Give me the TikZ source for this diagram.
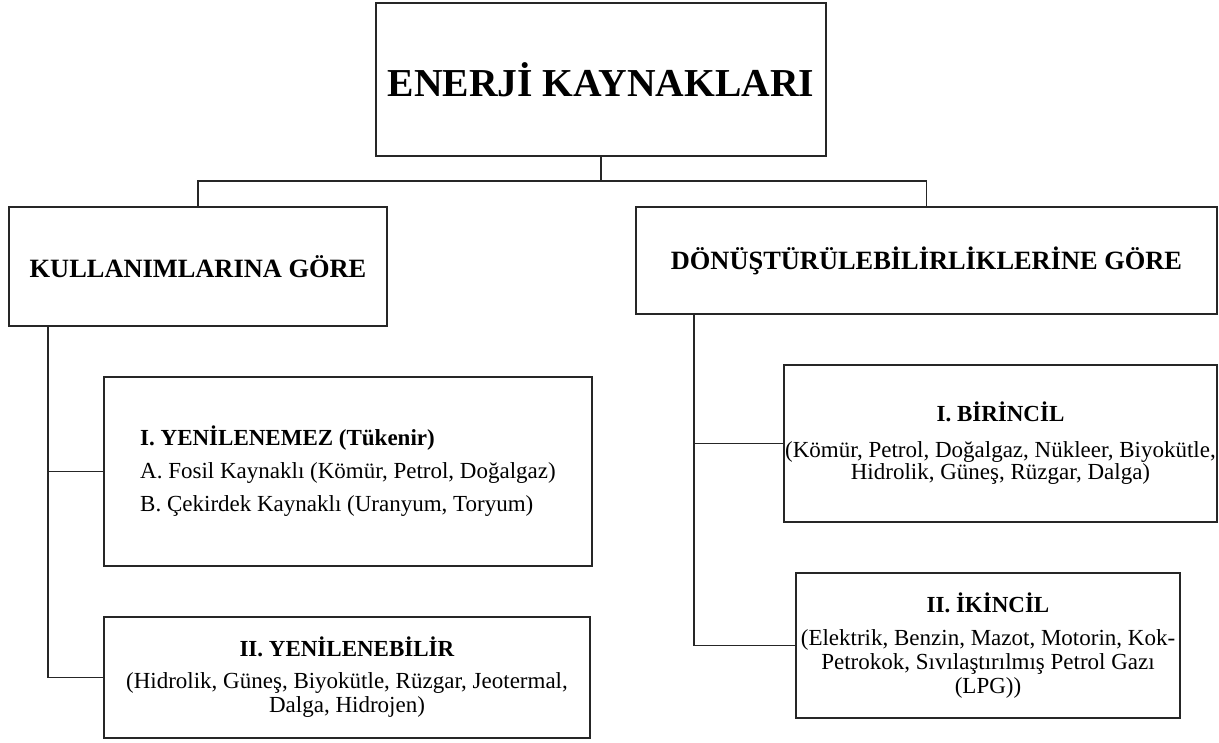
\documentclass[tikz,border=0pt]{standalone}
\usepackage{fontspec}
\setmainfont{Liberation Serif}
\usetikzlibrary{positioning}

\begin{document}
\begin{tikzpicture}[x=0.5pt, y=-0.5pt,
    box/.style={rectangle, draw=black!85, line width=0.6pt, inner sep=0pt, align=center,
        font=\fontsize{11.5}{12}\selectfont},
    head/.style={box, font=\bfseries\fontsize{13.2}{15}\selectfont},
    link/.style={draw=black!85, line width=0.6pt}
]
\useasboundingbox (0,0) rectangle (1219,743);

\node[box, minimum width=225pt, minimum height=76.5pt, font=\bfseries\fontsize{19.8}{22}\selectfont]
    (enerji) at (601,79.5) {ENERJİ KAYNAKLARI};

\node[head, minimum width=189pt, minimum height=59.5pt] (kullanim) at (198,266.5) {KULLANIMLARINA GÖRE};
\node[head, minimum width=290.5pt, minimum height=53.5pt] (donusum) at (926.5,260.5) {DÖNÜŞTÜRÜLEBİLİRLİKLERİNE GÖRE};

\node[box, minimum width=244pt, minimum height=94.5pt, align=left] (yenilenemez) at (348,471.5)
    {\textbf{I. YENİLENEMEZ (Tükenir)}\\[4.5pt]
     A. Fosil Kaynaklı (Kömür, Petrol, Doğalgaz)\\[4.5pt]
     B. Çekirdek Kaynaklı (Uranyum, Toryum)};
\node[box, minimum width=243pt, minimum height=60.5pt] (yenilenebilir) at (347,677.5)
    {\textbf{II. YENİLENEBİLİR}\\[4pt]
     (Hidrolik, Güneş, Biyokütle, Rüzgar, Jeotermal,\\
     Dalga, Hidrojen)};

\node[box, minimum width=216.5pt, minimum height=78.5pt] (birincil) at (1000.5,443.5)
    {\textbf{I. BİRİNCİL}\\[6pt]
     (Kömür, Petrol, Doğalgaz, Nükleer, Biyokütle,\\[-1pt]
     Hidrolik, Güneş, Rüzgar, Dalga)};
\node[box, minimum width=192pt, minimum height=72.5pt] (ikincil) at (988,645.5)
    {\textbf{II. İKİNCİL}\\[4.5pt]
     (Elektrik, Benzin, Mazot, Motorin, Kok-\\
     Petrokok, Sıvılaştırılmış Petrol Gazı\\
     (LPG))};

% branching points
\coordinate (split) at (601,181);
\coordinate (ltrunk) at (48,0);
\coordinate (rtrunk) at (694,0);

\draw[link] (enerji) -- (split);
\draw[link] (split) -| (kullanim);
\draw[link] (split) -| (donusum);

\draw[link] (kullanim.south -| ltrunk) |- (yenilenebilir.west);
\draw[link] (yenilenemez.west) -| (ltrunk |- yenilenemez.west);
\draw[link] (donusum.south -| rtrunk) |- (ikincil.west);
\draw[link] (birincil.west) -| (rtrunk |- birincil.west);

\end{tikzpicture}
\end{document}
